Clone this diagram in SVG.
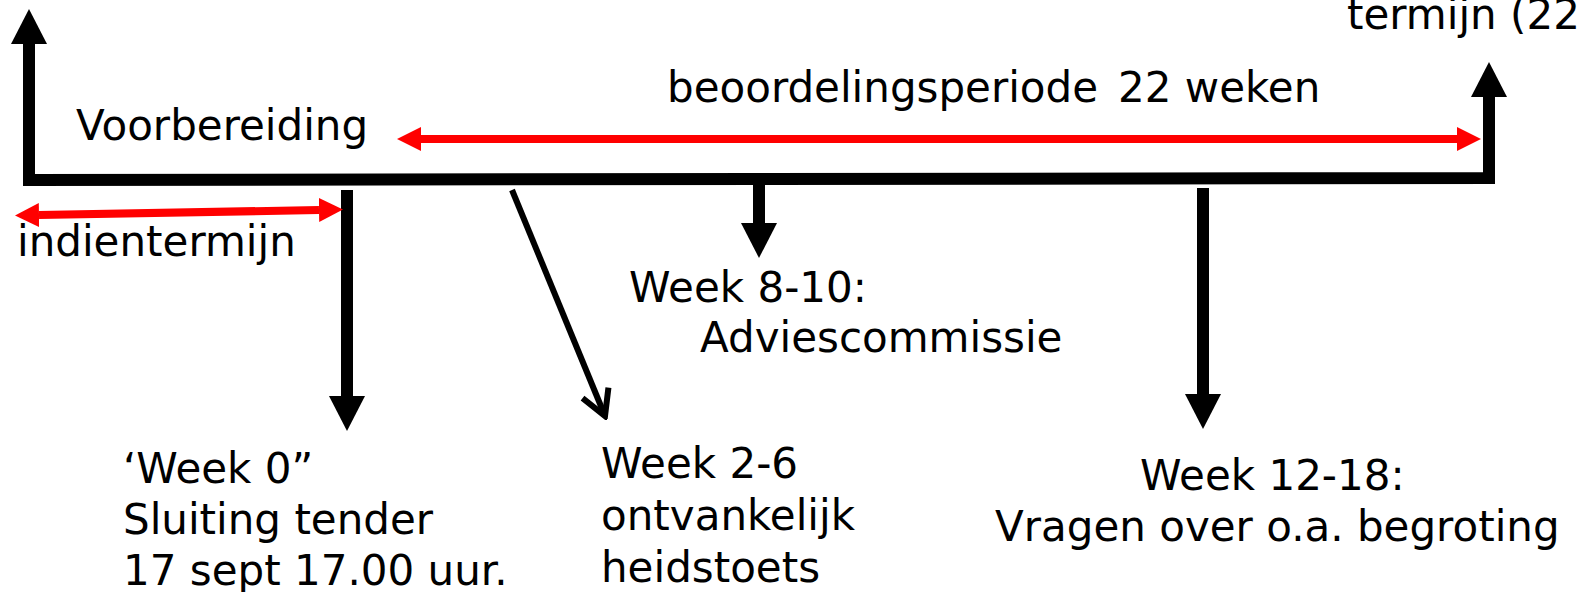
<svg xmlns="http://www.w3.org/2000/svg" width="1584" height="592" viewBox="0 0 1584 592">
<style>
text { font-family: "DejaVu Sans", Verdana, sans-serif; font-size: 42px; fill: #000; }
.blk { stroke: #000; stroke-width: 12; fill: none; stroke-linejoin: miter; }
.red { stroke: #ff0000; stroke-width: 8; fill: none; }
.thin { stroke: #000; stroke-width: 6; fill: none; }
</style>
<defs>
<marker id="headB" viewBox="0 -18 36 36" refX="0" refY="0" markerWidth="36" markerHeight="36" markerUnits="userSpaceOnUse" orient="auto-start-reverse">
<path d="M0,-18 L35,0 L0,18 z" fill="#000"/>
</marker>
<marker id="headR" viewBox="0 -13 26 26" refX="0" refY="0" markerWidth="26" markerHeight="26" markerUnits="userSpaceOnUse" orient="auto-start-reverse">
<path d="M0,-12 L24,0 L0,12 z" fill="#ff0000"/>
</marker>
<marker id="headO" viewBox="-30 -20 34 40" refX="0" refY="0" markerWidth="34" markerHeight="40" markerUnits="userSpaceOnUse" orient="auto">
<path d="M-25,-14 L0,0 L-25,14" fill="none" stroke="#000" stroke-width="6"/>
</marker>
</defs>
<g id="connectors">
<path id="timeline" class="blk" d="M29,44 L29,180 L1489,178 L1489,97" marker-start="url(#headB)" marker-end="url(#headB)"/>
<path id="week0-arrow" class="blk" d="M347,190 L347,396" marker-end="url(#headB)"/>
<path id="week8-arrow" class="blk" d="M759,184 L759,223" marker-end="url(#headB)"/>
<path id="week12-arrow" class="blk" d="M1203,188 L1203,394" marker-end="url(#headB)"/>
<path id="week2-arrow" class="thin" d="M512,190 L605,416" marker-end="url(#headO)"/>
<path id="beoordeling-arrow" class="red" d="M421,139 L1457,139" marker-start="url(#headR)" marker-end="url(#headR)"/>
<path id="indien-arrow" class="red" d="M39,215 L319,210" marker-start="url(#headR)" marker-end="url(#headR)"/>
</g>
<g id="voorbereiding"><text x="76" y="140">Voorbereiding</text></g>
<g id="indientermijn"><text x="17" y="256">indientermijn</text></g>
<g id="beoordelingsperiode"><text x="667" y="102">beoordelingsperiode<tspan x="1118">22 weken</tspan></text></g>
<g id="termijn"><text x="1347" y="29">termijn (22</text></g>
<g id="week0"><text x="123" y="483">‘Week 0”</text><text x="123" y="534">Sluiting tender</text><text x="123" y="585">17 sept 17.00 uur.</text></g>
<g id="week2"><text x="601" y="478">Week 2-6</text><text x="601" y="530">ontvankelijk</text><text x="601" y="582">heidstoets</text></g>
<g id="week8"><text x="629" y="302">Week 8-10:</text><text x="700" y="352">Adviescommissie</text></g>
<g id="week12"><text x="1140" y="490">Week 12-18:</text><text x="995" y="541">Vragen over o.a. begroting</text></g>
</svg>
